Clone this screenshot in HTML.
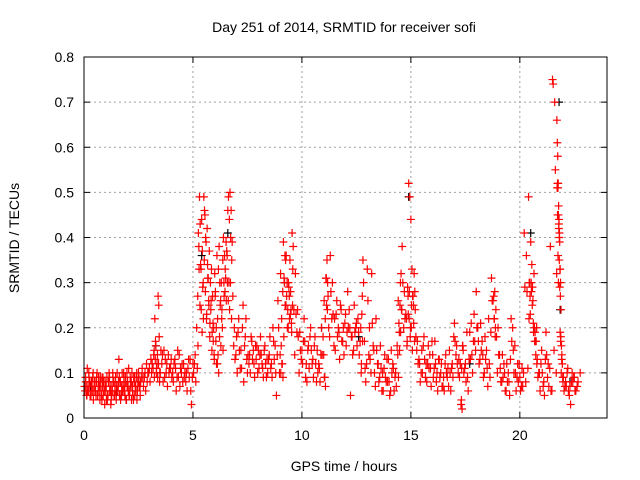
<!DOCTYPE html>
<html><head><meta charset="utf-8"><style>
body{margin:0;background:#fff}
svg{display:block;font-family:"Liberation Sans",sans-serif}
</style></head><body>
<svg id="chart" width="640" height="480">
<text x="344" y="32" font-size="14" text-anchor="middle" fill="#000">Day 251 of 2014, SRMTID for receiver sofi</text>
<text x="344" y="471" font-size="14" text-anchor="middle">GPS time / hours</text>
<text transform="translate(19,238) rotate(-90)" font-size="14" text-anchor="middle">SRMTID / TECUs</text>
<g id="grid"></g><g id="ticks"></g><g id="marks"></g>
<rect x="84" y="57" width="523" height="361" fill="none" stroke="#000"/>
</svg>
<script>
const xTicks=[0,5,10,15,20];
const yTicks=[0,0.1,0.2,0.3,0.4,0.5,0.6,0.7,0.8];
const yTickLabels=["0","0.1","0.2","0.3","0.4","0.5","0.6","0.7","0.8"];
const redTimes=[0.05,0.1,0.15,0.2,0.25,0.3,0.35,0.4,0.45,0.5,0.55,0.6,0.65,0.7,0.75,0.8,0.85,0.9,0.95,1.0,1.05,1.1,1.15,1.2,1.25,1.3,1.35,1.4,1.45,1.5,1.55,1.6,1.65,1.7,1.75,1.8,1.85,1.9,1.95,2.0,2.05,2.1,2.15,2.2,2.25,2.3,2.35,2.4,2.45,2.5,2.55,2.6,2.7,2.8,2.9,3.0,3.1,3.2,3.25,3.3,3.35,3.4,3.45,3.5,3.6,3.7,3.8,3.9,4.0,4.1,4.2,4.3,4.4,4.5,4.6,4.7,4.8,4.9,5.0,5.1,5.2,5.25,5.3,5.35,5.4,5.45,5.5,5.55,5.6,5.65,5.7,5.75,5.8,5.85,5.9,5.95,6.0,6.05,6.1,6.15,6.2,6.25,6.3,6.35,6.4,6.45,6.5,6.55,6.6,6.65,6.7,6.75,6.8,6.9,7.0,7.1,7.2,7.3,7.4,7.5,7.6,7.7,7.8,7.9,8.0,8.1,8.2,8.3,8.4,8.5,8.6,8.7,8.8,8.9,9.0,9.05,9.1,9.15,9.2,9.25,9.3,9.35,9.4,9.45,9.5,9.55,9.6,9.7,9.8,9.9,10.0,10.1,10.2,10.3,10.4,10.5,10.6,10.7,10.8,10.9,11.0,11.05,11.1,11.15,11.2,11.3,11.4,11.5,11.6,11.7,11.8,11.9,12.0,12.1,12.2,12.3,12.4,12.5,12.6,12.7,12.75,12.8,12.9,13.0,13.1,13.2,13.3,13.4,13.5,13.6,13.7,13.8,13.9,14.0,14.1,14.2,14.3,14.4,14.45,14.5,14.55,14.6,14.7,14.8,14.85,14.9,14.95,15.0,15.05,15.1,15.15,15.2,15.3,15.4,15.5,15.6,15.7,15.8,15.9,16.0,16.1,16.2,16.3,16.4,16.5,16.6,16.7,16.8,16.9,17.0,17.1,17.2,17.3,17.35,17.4,17.5,17.6,17.7,17.8,17.9,18.0,18.1,18.2,18.3,18.4,18.5,18.6,18.7,18.8,18.85,18.9,19.0,19.1,19.2,19.3,19.4,19.5,19.6,19.7,19.8,19.9,20.0,20.1,20.2,20.3,20.4,20.45,20.5,20.55,20.6,20.65,20.7,20.75,20.8,20.9,21.0,21.1,21.2,21.3,21.4,21.5,21.6,21.7,21.72,21.74,21.76,21.78,21.8,21.82,21.84,21.86,21.88,21.9,21.95,22.0,22.1,22.2,22.3,22.4,22.5,22.6,22.7,22.8];
const redValsA=[0.06,0.07,0.11,0.06,0.08,0.05,0.07,0.09,0.06,0.08,0.05,0.1,0.07,0.06,0.09,0.05,0.07,0.08,0.03,0.06,0.09,0.05,0.1,0.07,0.04,0.06,0.08,0.05,0.09,0.07,0.06,0.13,0.08,0.05,0.1,0.07,0.06,0.09,0.04,0.08,0.11,0.06,0.07,0.1,0.05,0.08,0.07,0.09,0.06,0.1,0.07,0.08,0.09,0.1,0.08,0.11,0.1,0.14,0.22,0.16,0.12,0.27,0.18,0.1,0.14,0.09,0.12,0.1,0.13,0.08,0.11,0.15,0.07,0.12,0.09,0.1,0.13,0.06,0.12,0.14,0.11,0.41,0.49,0.34,0.44,0.29,0.49,0.45,0.39,0.42,0.31,0.37,0.3,0.33,0.27,0.2,0.32,0.17,0.36,0.14,0.38,0.25,0.3,0.2,0.4,0.36,0.31,0.37,0.46,0.3,0.5,0.46,0.39,0.2,0.18,0.22,0.15,0.25,0.18,0.1,0.14,0.17,0.12,0.13,0.15,0.18,0.11,0.16,0.13,0.14,0.12,0.17,0.1,0.26,0.14,0.16,0.12,0.39,0.3,0.35,0.27,0.24,0.29,0.35,0.24,0.41,0.38,0.32,0.24,0.19,0.15,0.22,0.12,0.16,0.2,0.13,0.18,0.15,0.11,0.2,0.14,0.09,0.31,0.35,0.27,0.36,0.3,0.22,0.26,0.19,0.24,0.2,0.23,0.28,0.2,0.18,0.25,0.21,0.19,0.2,0.23,0.35,0.11,0.33,0.2,0.32,0.15,0.22,0.12,0.16,0.1,0.14,0.13,0.08,0.15,0.11,0.1,0.14,0.21,0.25,0.32,0.38,0.28,0.22,0.29,0.52,0.49,0.44,0.33,0.27,0.32,0.24,0.17,0.12,0.15,0.18,0.12,0.16,0.11,0.14,0.17,0.1,0.13,0.12,0.09,0.14,0.11,0.1,0.12,0.21,0.16,0.13,0.03,0.02,0.15,0.12,0.09,0.19,0.14,0.23,0.28,0.17,0.21,0.14,0.18,0.11,0.12,0.31,0.27,0.28,0.24,0.2,0.11,0.14,0.1,0.12,0.08,0.22,0.15,0.1,0.12,0.09,0.11,0.41,0.36,0.49,0.3,0.39,0.34,0.26,0.32,0.19,0.17,0.13,0.1,0.15,0.08,0.19,0.12,0.38,0.75,0.7,0.66,0.61,0.58,0.52,0.47,0.44,0.41,0.33,0.27,0.18,0.1,0.12,0.09,0.08,0.11,0.07,0.1,0.09];
const redValsB=[0.08,0.05,0.07,0.09,0.05,0.08,0.06,0.04,0.08,0.06,0.09,0.05,0.08,0.04,0.06,0.09,0.05,0.06,0.07,0.04,0.05,0.08,0.06,0.03,0.07,0.09,0.05,0.07,0.04,0.06,0.08,0.05,0.04,0.07,0.06,0.09,0.05,0.04,0.07,0.06,0.05,0.08,0.04,0.06,0.09,0.05,0.06,0.04,0.08,0.07,0.05,0.09,0.07,0.06,0.1,0.08,0.12,0.09,0.17,0.11,0.09,0.25,0.1,0.15,0.08,0.13,0.07,0.11,0.09,0.12,0.06,0.09,0.11,0.08,0.1,0.06,0.09,0.03,0.1,0.08,0.16,0.33,0.43,0.24,0.37,0.22,0.46,0.4,0.23,0.31,0.25,0.21,0.26,0.19,0.17,0.13,0.28,0.12,0.22,0.1,0.3,0.16,0.24,0.15,0.27,0.33,0.26,0.3,0.49,0.24,0.4,0.35,0.27,0.13,0.1,0.15,0.11,0.08,0.22,0.14,0.1,0.13,0.09,0.16,0.11,0.14,0.09,0.12,0.1,0.18,0.09,0.13,0.05,0.2,0.1,0.12,0.09,0.31,0.25,0.36,0.2,0.3,0.22,0.28,0.19,0.33,0.24,0.23,0.18,0.15,0.12,0.17,0.08,0.11,0.15,0.09,0.12,0.1,0.08,0.14,0.09,0.07,0.25,0.3,0.2,0.28,0.23,0.15,0.18,0.13,0.17,0.14,0.16,0.2,0.05,0.14,0.19,0.16,0.14,0.12,0.17,0.3,0.08,0.26,0.13,0.21,0.1,0.15,0.08,0.11,0.06,0.09,0.08,0.05,0.1,0.06,0.07,0.09,0.15,0.19,0.24,0.3,0.22,0.17,0.23,0.28,0.2,0.25,0.27,0.21,0.28,0.18,0.12,0.08,0.1,0.13,0.08,0.11,0.07,0.09,0.12,0.06,0.09,0.07,0.06,0.1,0.07,0.06,0.09,0.17,0.12,0.09,0.11,0.16,0.1,0.08,0.06,0.13,0.1,0.17,0.2,0.12,0.15,0.09,0.13,0.07,0.09,0.26,0.22,0.2,0.18,0.14,0.08,0.09,0.06,0.08,0.05,0.17,0.1,0.06,0.08,0.06,0.07,0.29,0.28,0.3,0.23,0.28,0.29,0.19,0.17,0.14,0.12,0.09,0.06,0.1,0.05,0.14,0.07,0.06,0.74,0.55,0.52,0.51,0.45,0.43,0.4,0.39,0.33,0.3,0.24,0.16,0.14,0.08,0.06,0.07,0.06,0.03,0.08,0.06,0.07];
const redValsC=[0.07,0.09,0.05,0.06,0.1,0.07,0.05,0.08,0.1,0.07,0.06,0.08,0.05,0.09,0.07,0.08,0.04,0.09,0.06,0.08,0.07,0.04,0.08,0.09,0.06,0.05,0.1,0.08,0.06,0.05,0.1,0.07,0.09,0.08,0.05,0.06,0.1,0.07,0.08,0.1,0.07,0.05,0.09,0.08,0.07,0.04,0.09,0.07,0.1,0.08,0.09,0.07,
0.11,0.09,0.12,0.1,0.13,0.11,0.15,0.13,0.1,0.14,0.12,0.08,0.12,0.15,0.1,0.14,0.11,0.1,0.13,0.09,0.14,0.1,0.12,0.08,0.11,0.13,0.09,0.12,
0.2,0.27,0.38,0.25,0.33,0.19,0.3,0.35,0.28,0.22,0.34,0.26,0.18,0.24,0.15,0.21,0.14,0.27,0.2,0.12,0.33,0.18,0.26,0.22,0.35,0.3,0.28,0.39,0.36,0.26,0.44,0.3,0.22,
0.16,0.14,0.19,0.11,0.2,0.16,0.13,0.12,0.18,0.15,0.16,0.1,0.14,0.12,0.15,0.09,0.13,0.11,0.2,0.16,0.14,0.1,
0.32,0.22,0.28,0.18,0.36,0.25,0.3,0.2,0.27,0.23,0.21,0.25,
0.14,0.19,0.1,0.13,0.17,0.09,0.15,0.18,0.12,0.16,0.08,0.12,0.14,0.18,
0.26,0.22,0.31,0.24,
0.18,0.22,0.16,0.23,0.2,0.25,0.17,0.21,0.19,0.24,0.18,0.15,0.2,0.22,0.17,
0.1,0.27,
0.17,0.12,0.14,0.1,0.16,0.07,0.12,0.09,0.06,0.11,0.08,0.13,0.06,0.12,0.09,0.16,
0.26,0.19,0.3,0.24,
0.2,0.23,0.16,0.27,0.22,0.18,0.2,0.15,0.25,0.17,
0.15,0.13,0.1,0.16,0.09,0.12,0.14,0.17,0.11,0.08,0.13,0.1,0.07,0.12,0.09,0.15,0.11,0.18,0.14,0.1,0.12,
0.04,
0.16,0.11,0.19,0.13,0.21,0.17,0.15,0.2,0.13,0.17,0.1,0.15,0.22,0.19,0.26,
0.22,
0.18,0.1,0.14,0.08,0.12,0.06,0.1,0.13,0.2,0.16,0.09,0.12,0.07,0.1,0.08,0.11,
0.22,0.27,0.3,0.25,0.21,0.2,0.17,0.2,
0.1,0.12,0.07,0.13,0.09,0.11,0.06,0.15,0.1,
0.32,0.51,0.45,0.36,0.3,0.42,0.35,0.29,0.19,0.17,
0.13,
0.09,0.07,0.1,0.05,0.08,0.09,0.06,0.08,0.1];
const blackTimes=[0.3,1.5,3.3,5.4,6.6,9.2,10.9,12.6,14.9,17.7,20.5,21.8,21.85,22.3];
const blackVals=[0.07,0.06,0.16,0.36,0.41,0.3,0.2,0.18,0.49,0.12,0.41,0.7,0.24,0.08];

const X0=84,X1=607,Y0=418,Y1=57,XMAX=24,YMAX=0.8;
const xs=t=>X0+(X1-X0)*t/XMAX, ys=v=>Y0-(Y0-Y1)*v/YMAX;
const NS="http://www.w3.org/2000/svg";
const grid=document.getElementById('grid'),ticks=document.getElementById('ticks'),marks=document.getElementById('marks');
function mk(tag,attrs,parent){const e=document.createElementNS(NS,tag);for(const k in attrs)e.setAttribute(k,attrs[k]);parent.appendChild(e);return e;}
xTicks.forEach(t=>{
  const x=xs(t);
  if(t>0){const g=mk('line',{x1:x,x2:x,y1:Y0,y2:Y1,stroke:'#a0a0a0','stroke-dasharray':'2,3'},grid);
  
  }
  mk('line',{x1:x,x2:x,y1:Y0,y2:Y0-6,stroke:'#000'},ticks);
  mk('line',{x1:x,x2:x,y1:Y1,y2:Y1+6,stroke:'#000'},ticks);
  const l=mk('text',{x:x,y:Y0+22,'font-size':14,'text-anchor':'middle',fill:'#000'},ticks);l.textContent=t;
  
  
});
yTicks.forEach((v,i)=>{
  const y=ys(v);
  if(v>0&&v<YMAX){const g=mk('line',{x1:X0,x2:X1,y1:y,y2:y,stroke:'#a0a0a0','stroke-dasharray':'2,3'},grid);
  
  }
  mk('line',{x1:X0,x2:X0+6,y1:y,y2:y,stroke:'#000'},ticks);
  mk('line',{x1:X1,x2:X1-6,y1:y,y2:y,stroke:'#000'},ticks);
  const l=mk('text',{x:X0-10,y:y+5,'font-size':14,'text-anchor':'end',fill:'#000'},ticks);l.textContent=yTickLabels[i];
  
  
});
function plus(t,v,color,name){
  if(v===undefined)return;
  const x=xs(t),y=ys(v);
  const p=mk('path',{d:`M${x-4},${y}H${x+4}M${x},${y-4}V${y+4}`,stroke:color,'stroke-width':1.2,fill:'none'},marks);
  
  
}
blackTimes.forEach((t,i)=>plus(t,blackVals[i],'#000','black-point'));
redTimes.forEach((t,i)=>{
  plus(t,redValsA[i],'#f00','red-point');
  plus(t+0.03,redValsB[i],'#f00','red-point');
  plus(t-0.03,redValsC[i],'#f00','red-point');
});
</script>
</body></html>
